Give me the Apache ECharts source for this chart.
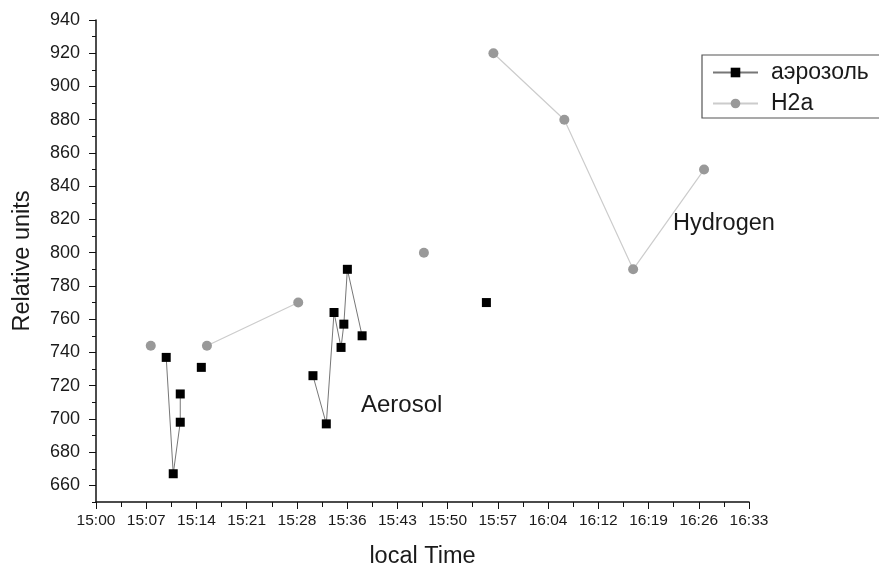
<!DOCTYPE html>
<html>
<head>
<meta charset="utf-8">
<script src="https://cdn.jsdelivr.net/npm/echarts@6/dist/echarts.min.js"></script>
<style>html,body{margin:0;padding:0;background:#fff}#c{width:879px;height:574px}</style>
</head>
<body>
<div id="c"></div>
<script>
// minutes after 15:00
const aerosolTime  = [10, 11, 12, 12, null, 15, null, 30.9, 32.8, 33.9, 34.9, 35.3, 35.8, 37.9, null, 55.6];
const aerosolValue = [737, 667, 698, 715, null, 731, null, 726, 697, 764, 743, 757, 790, 750, null, 770];
const h2Time  = [7.8, null, 15.8, 28.8, null, 46.7, null, 56.6, 66.7, 76.5, 86.6];
const h2Value = [744, null, 744, 770, null, 800, null, 920, 880, 790, 850];
const xTickLabels = ['15:00','15:07','15:14','15:21','15:28','15:36','15:43','15:50','15:57','16:04','16:12','16:19','16:26','16:33'];
const yTickLabels = [660, 680, 700, 720, 740, 760, 780, 800, 820, 840, 860, 880, 900, 920, 940];
const yMinorTicks = [650, 670, 690, 710, 730, 750, 770, 790, 810, 830, 850, 870, 890, 910, 930];
const seriesNames = ['аэрозоль', 'H2a'];

const xMax = 93;
const xStep = xMax / (xTickLabels.length - 1);
const pairs = (xs, ys) => xs.map((x, i) => x === null ? '-' : [x, ys[i]]);

const chart = echarts.init(document.getElementById('c'), null, {renderer: 'canvas'});
const font = 'Liberation Sans, Arial, sans-serif';
const ink = '#1a1a1a';
chart.setOption({
  backgroundColor: '#fff',
  animation: false,
  grid: {left: 96, right: 130, top: 20, bottom: 72, containLabel: false},
  legend: {
    left: 702, top: 55, orient: 'vertical',
    borderColor: '#555', borderWidth: 1.2, padding: [6, 30, 3, 10],
    itemWidth: 45, itemHeight: 12, itemGap: 8,
    textStyle: {fontFamily: font, fontSize: 23, color: ink, padding: [0, 0, 0, 8]},
    data: seriesNames
  },
  xAxis: {
    type: 'value', min: 0, max: xMax, interval: xStep,
    name: 'local Time', nameLocation: 'middle', nameGap: 43,
    nameTextStyle: {fontFamily: font, fontSize: 23.5, color: ink},
    axisLine: {show: true, lineStyle: {color: '#111', width: 1.5}},
    axisTick: {show: true, inside: false, length: 7, lineStyle: {color: '#111'}},
    minorTick: {show: true, splitNumber: 2, length: 5, lineStyle: {color: '#111'}},
    splitLine: {show: false},
    axisLabel: {
      margin: 11, fontFamily: font, fontSize: 15.5, color: ink,
      formatter: v => xTickLabels[Math.round(v / xStep)] || ''
    }
  },
  yAxis: [{
    type: 'value', min: 650, max: 940,
    name: 'Relative units', nameLocation: 'middle', nameGap: 61,
    nameTextStyle: {fontFamily: font, fontSize: 23.5, color: ink},
    axisLine: {show: true, lineStyle: {color: '#111', width: 1.5}},
    axisTick: {show: true, inside: false, length: 7, lineStyle: {color: '#111'}, customValues: yTickLabels},
    splitLine: {show: false},
    axisLabel: {
      margin: 16, fontFamily: font, fontSize: 18, color: ink,
      customValues: yTickLabels
    }
  }, {
    type: 'value', min: 650, max: 940, position: 'left',
    axisLine: {show: false},
    axisTick: {show: true, inside: false, length: 4, lineStyle: {color: '#111'}, customValues: yMinorTicks},
    axisLabel: {show: false},
    splitLine: {show: false}
  }],
  series: [
    {
      name: seriesNames[0], type: 'line',
      data: pairs(aerosolTime, aerosolValue),
      connectNulls: false,
      symbol: 'rect', symbolSize: 9,
      itemStyle: {color: '#000'},
      lineStyle: {color: '#777', width: 1}
    },
    {
      name: seriesNames[1], type: 'line',
      data: pairs(h2Time, h2Value),
      connectNulls: false,
      symbol: 'circle', symbolSize: 10,
      itemStyle: {color: '#999'},
      lineStyle: {color: '#ccc', width: 1.2}
    }
  ],
  graphic: [
    {type: 'text', left: 361, top: 393, style: {text: 'Aerosol', font: '24px ' + font, fill: ink}},
    {type: 'text', left: 673, top: 212, style: {text: 'Hydrogen', font: '23.5px ' + font, fill: ink}}
  ]
});
</script>
</body>
</html>
